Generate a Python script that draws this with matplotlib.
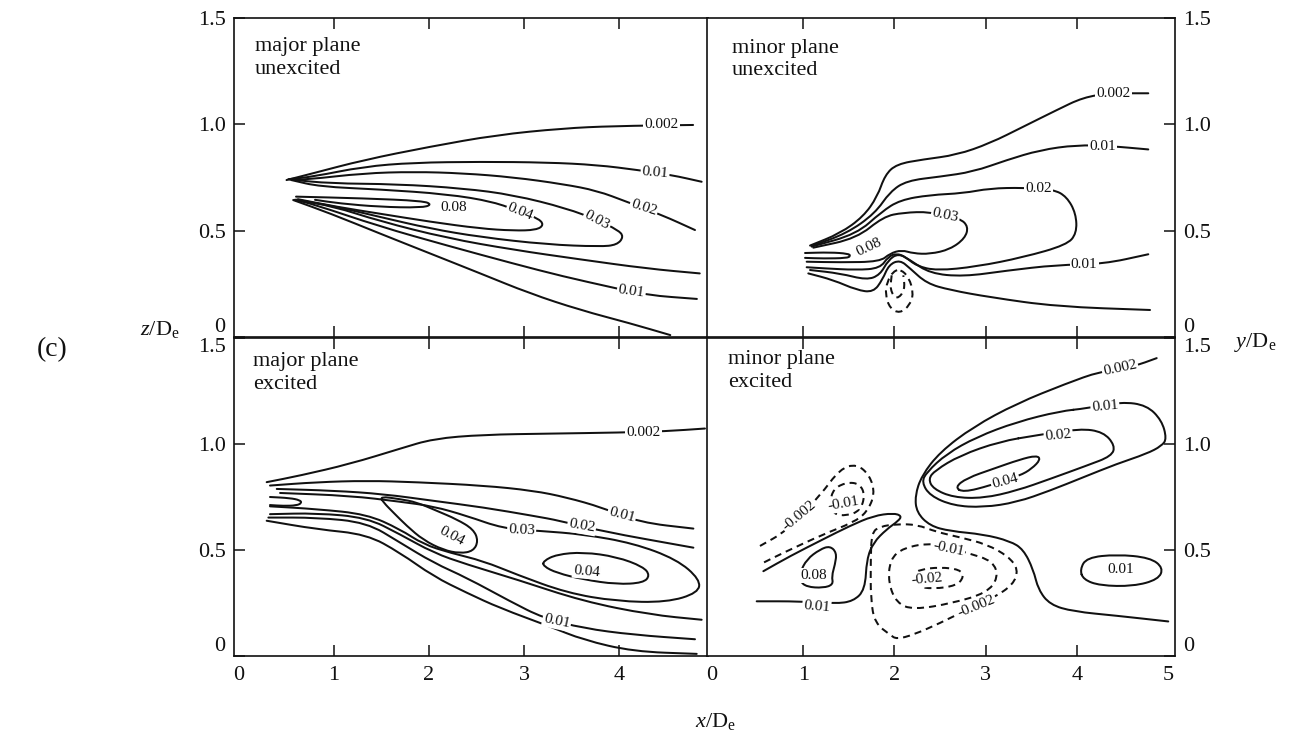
import matplotlib
matplotlib.use('Agg')
from matplotlib import pyplot as plt
from matplotlib.path import Path
from matplotlib.patches import PathPatch

plt.rcParams['font.family'] = ['Liberation Serif', 'DejaVu Serif']
plt.rcParams['mathtext.fontset'] = 'custom'
plt.rcParams['mathtext.rm'] = 'Liberation Serif'
plt.rcParams['mathtext.it'] = 'Liberation Serif:italic'

INK = '#111111'

# Contour traces, as (x/De, z/De) or (x/De, y/De) points.

# --- major plane, unexcited ---
tl_002_upper = [(0.50, 0.738), (0.78, 0.770), (1.31, 0.832), (2.01, 0.895), (2.71, 0.950),
                (3.41, 0.981), (3.94, 0.992), (4.78, 0.997)]
tl_002_lower = [(0.57, 0.644), (0.96, 0.581), (1.48, 0.487), (2.01, 0.393), (2.54, 0.299),
                (3.06, 0.205), (3.59, 0.127), (4.12, 0.064), (4.54, 0.009)]
tl_01_upper = [(0.52, 0.742), (0.78, 0.754), (1.31, 0.801), (1.84, 0.820), (2.54, 0.824),
               (3.24, 0.821), (3.77, 0.809), (4.20, 0.785), (4.55, 0.762), (4.87, 0.730)]
tl_01_lower = [(0.58, 0.645), (0.78, 0.625), (1.48, 0.520), (2.19, 0.430), (2.89, 0.345),
               (3.41, 0.285), (3.94, 0.232), (4.29, 0.197), (4.82, 0.179)]
tl_02_upper = [(0.53, 0.741), (0.71, 0.740), (1.31, 0.770), (1.84, 0.777), (2.36, 0.770),
               (2.89, 0.751), (3.41, 0.719), (3.77, 0.688), (4.08, 0.636), (4.45, 0.574),
               (4.80, 0.503)]
tl_02_lower = [(0.59, 0.645), (0.99, 0.615), (1.48, 0.545), (2.19, 0.465), (2.89, 0.410),
               (3.59, 0.365), (4.29, 0.322), (4.85, 0.299)]
tl_03 = [(0.55, 0.740), (0.96, 0.722), (1.66, 0.719), (2.36, 0.699), (2.89, 0.668),
         (3.45, 0.605), (3.77, 0.550), (3.99, 0.503), (4.05, 0.472), (3.98, 0.433),
         (3.80, 0.425), (3.24, 0.435), (2.54, 0.470), (2.01, 0.510), (1.48, 0.565),
         (1.03, 0.612), (0.60, 0.646)]
tl_04 = [(0.55, 0.738), (0.85, 0.707), (1.48, 0.694), (2.19, 0.672), (2.68, 0.636),
         (2.96, 0.588), (3.15, 0.558), (3.21, 0.527), (3.13, 0.503), (2.89, 0.500),
         (2.54, 0.510), (2.01, 0.542), (1.48, 0.580), (1.03, 0.612), (0.62, 0.648)]
tl_08 = [(0.60, 0.660), (1.31, 0.652), (1.94, 0.640), (2.03, 0.622), (1.92, 0.608),
         (1.48, 0.612), (1.06, 0.628), (0.80, 0.645)]
tl_labels = [('0.002', 4.45, 0.997, 0), ('0.01', 4.38, 0.774, -5), ('0.02', 4.26, 0.606, -18),
             ('0.03', 3.77, 0.550, -28), ('0.04', 2.96, 0.588, -22), ('0.08', 2.26, 0.610, 0),
             ('0.01', 4.13, 0.214, -8)]

# --- minor plane, unexcited ---
tr_002_upper = [(1.075, 0.430), (1.404, 0.487), (1.659, 0.566), (1.813, 0.660), (1.897, 0.762),
                (2.025, 0.813), (2.317, 0.835), (2.683, 0.856), (3.048, 0.911), (3.414, 0.989),
                (3.779, 1.067), (4.071, 1.127), (4.364, 1.146), (4.784, 1.146)]
tr_01_upper = [(1.093, 0.428), (1.477, 0.487), (1.787, 0.581), (1.952, 0.683), (2.135, 0.735),
               (2.500, 0.754), (2.865, 0.777), (3.231, 0.832), (3.596, 0.879), (3.999, 0.903),
               (4.364, 0.898), (4.784, 0.882)]
tr_02 = [(1.093, 0.425), (1.586, 0.484), (1.860, 0.589), (2.061, 0.644), (2.390, 0.668),
         (2.756, 0.676), (3.048, 0.699), (3.414, 0.702), (3.743, 0.694), (3.889, 0.660),
         (3.991, 0.581), (3.999, 0.487), (3.889, 0.433), (3.414, 0.375), (2.902, 0.331),
         (2.463, 0.312), (2.244, 0.334), (2.116, 0.378), (2.025, 0.393), (1.933, 0.378),
         (1.842, 0.323), (1.586, 0.315), (1.221, 0.323), (1.038, 0.328)]
tr_03 = [(1.111, 0.420), (1.586, 0.464), (1.879, 0.566), (2.098, 0.585), (2.390, 0.589),
         (2.719, 0.558), (2.811, 0.519), (2.774, 0.464), (2.610, 0.412), (2.390, 0.390),
         (2.208, 0.393), (2.080, 0.409), (1.952, 0.393), (1.842, 0.354), (1.404, 0.351),
         (1.038, 0.354)]
tr_08 = [(1.020, 0.395), (1.294, 0.398), (1.495, 0.392), (1.520, 0.381), (1.477, 0.371),
         (1.221, 0.369), (1.020, 0.372)]
tr_01_lower = [(1.075, 0.315), (1.404, 0.299), (1.696, 0.268), (1.842, 0.292), (1.933, 0.362),
               (2.043, 0.393), (2.171, 0.362), (2.390, 0.299), (2.756, 0.284), (3.231, 0.312),
               (3.779, 0.339), (4.291, 0.343), (4.784, 0.389)]
tr_002_lower = [(1.056, 0.299), (1.330, 0.268), (1.586, 0.221), (1.769, 0.210), (1.870, 0.270),
                (1.940, 0.340), (2.061, 0.362), (2.171, 0.323), (2.354, 0.252), (2.610, 0.221),
                (3.048, 0.187), (3.779, 0.143), (4.803, 0.127)]
tr_neg_outer = [(1.99, 0.310), (1.92, 0.260), (1.90, 0.200), (1.95, 0.135), (2.06, 0.111),
                (2.17, 0.150), (2.21, 0.205), (2.16, 0.280), (2.07, 0.318), (1.99, 0.310)]
tr_neg_inner = [(1.97, 0.290), (1.952, 0.221), (2.025, 0.174), (2.116, 0.221), (2.098, 0.290)]
tr_labels = [('0.002', 4.40, 1.146, 0), ('0.01', 4.28, 0.898, 0), ('0.02', 3.58, 0.699, 0),
             ('0.03', 2.56, 0.572, -12), ('0.08', 1.72, 0.420, 25), ('0.01', 4.08, 0.343, 0)]

# --- major plane, excited ---
bl_002_upper = [(0.291, 0.820), (0.642, 0.851), (1.168, 0.906), (1.695, 0.978), (2.046, 1.025),
                (2.572, 1.044), (3.274, 1.049), (4.011, 1.054), (4.484, 1.060), (4.905, 1.073)]
bl_01_upper = [(0.326, 0.804), (0.818, 0.820), (1.344, 0.827), (1.870, 0.820), (2.572, 0.804),
               (3.098, 0.780), (3.449, 0.748), (3.818, 0.701), (4.221, 0.630), (4.783, 0.601)]
bl_02_upper = [(0.397, 0.788), (0.993, 0.780), (1.519, 0.764), (2.046, 0.732), (2.572, 0.701),
               (3.098, 0.661), (3.379, 0.638), (3.800, 0.590), (4.783, 0.511)]
bl_03 = [(0.432, 0.769), (1.168, 0.756), (1.695, 0.728), (2.046, 0.706), (2.397, 0.661),
         (2.782, 0.601), (3.168, 0.590), (3.624, 0.574), (4.151, 0.532), (4.607, 0.456),
         (4.853, 0.361), (4.835, 0.298), (4.502, 0.253), (3.975, 0.258), (3.449, 0.298),
         (2.923, 0.384), (2.572, 0.448), (2.221, 0.487), (1.940, 0.527), (1.695, 0.598),
         (1.344, 0.669), (0.818, 0.693), (0.326, 0.706)]
bl_04_near = [(1.484, 0.753), (1.695, 0.740), (1.870, 0.725), (2.081, 0.685), (2.291, 0.645),
              (2.467, 0.598), (2.519, 0.543), (2.467, 0.495), (2.326, 0.484), (2.151, 0.500),
              (1.940, 0.547), (1.765, 0.614), (1.624, 0.677), (1.519, 0.725), (1.484, 0.753)]
bl_04_far = [(3.203, 0.448), (3.344, 0.479), (3.624, 0.490), (3.975, 0.468), (4.256, 0.421),
             (4.326, 0.380), (4.256, 0.345), (3.975, 0.338), (3.624, 0.361), (3.344, 0.392),
             (3.203, 0.424), (3.203, 0.448)]
bl_08 = [(0.326, 0.750), (0.537, 0.745), (0.642, 0.735), (0.660, 0.722), (0.607, 0.710),
         (0.467, 0.708), (0.326, 0.712)]
bl_02_lower = [(0.326, 0.669), (0.818, 0.674), (1.344, 0.653), (1.695, 0.574), (2.046, 0.487),
               (2.397, 0.432), (2.923, 0.361), (3.624, 0.258), (4.326, 0.195), (4.870, 0.171)]
bl_01_lower = [(0.309, 0.653), (0.818, 0.653), (1.344, 0.630), (1.695, 0.535), (2.046, 0.440),
               (2.397, 0.369), (2.853, 0.258), (3.203, 0.179), (3.624, 0.131), (4.151, 0.100),
               (4.800, 0.079)]
bl_002_lower = [(0.291, 0.638), (0.818, 0.598), (1.344, 0.574), (1.695, 0.487), (2.046, 0.376),
                (2.397, 0.298), (2.747, 0.226), (3.274, 0.139), (3.624, 0.076), (4.151, 0.021),
                (4.818, 0.010)]
bl_labels = [('0.002', 4.256, 1.054, 0), ('0.01', 4.028, 0.664, -15), ('0.02', 3.607, 0.612, -10),
             ('0.03', 2.975, 0.593, -3), ('0.04', 2.239, 0.563, -28), ('0.04', 3.660, 0.400, -5),
             ('0.01', 3.344, 0.163, -12)]

# --- minor plane, excited ---
br_002 = [(4.876, 1.405), (4.620, 1.365), (4.254, 1.342), (3.889, 1.286), (3.341, 1.191),
          (2.865, 1.081), (2.500, 0.962), (2.299, 0.851), (2.226, 0.756), (2.244, 0.677),
          (2.390, 0.614), (2.610, 0.589), (2.975, 0.574), (3.268, 0.542), (3.414, 0.503),
          (3.523, 0.408), (3.578, 0.313), (3.706, 0.242), (3.962, 0.210), (4.437, 0.190),
          (5.003, 0.163)]
br_01 = [(4.108, 1.168), (4.492, 1.199), (4.766, 1.183), (4.931, 1.112), (4.986, 1.025),
         (4.931, 0.991), (4.766, 0.954), (4.437, 0.906), (4.071, 0.843), (3.706, 0.780),
         (3.341, 0.725), (2.975, 0.701), (2.646, 0.709), (2.390, 0.756), (2.299, 0.820),
         (2.354, 0.867), (2.573, 0.954), (2.902, 1.033), (3.341, 1.104), (3.816, 1.155),
         (4.108, 1.168)]
br_02 = [(3.560, 1.041), (4.035, 1.073), (4.291, 1.057), (4.419, 0.993), (4.383, 0.943),
         (4.108, 0.898), (3.706, 0.835), (3.341, 0.780), (2.975, 0.744), (2.646, 0.748),
         (2.427, 0.788), (2.372, 0.835), (2.445, 0.875), (2.719, 0.946), (3.158, 1.012),
         (3.560, 1.041)]
br_04 = [(2.664, 0.796), (2.793, 0.839), (3.084, 0.883), (3.377, 0.927), (3.560, 0.946),
         (3.604, 0.927), (3.505, 0.883), (3.377, 0.851), (3.048, 0.804), (2.756, 0.772),
         (2.664, 0.796)]
br_01_right = [(4.035, 0.408), (4.108, 0.464), (4.437, 0.479), (4.803, 0.464), (4.949, 0.416),
               (4.894, 0.361), (4.620, 0.329), (4.254, 0.332), (4.071, 0.361), (4.035, 0.408)]
br_01_left = [(0.490, 0.258), (0.965, 0.258), (1.349, 0.247), (1.549, 0.258), (1.678, 0.313),
              (1.696, 0.456), (1.769, 0.535), (1.915, 0.598), (2.043, 0.637), (2.080, 0.661),
              (1.988, 0.674), (1.769, 0.661), (1.513, 0.614), (1.220, 0.551), (0.855, 0.471),
              (0.563, 0.400)]
br_08 = [(0.965, 0.393), (1.038, 0.456), (1.184, 0.503), (1.294, 0.519), (1.367, 0.487),
         (1.349, 0.432), (1.312, 0.376), (1.330, 0.337), (1.220, 0.321), (1.038, 0.326),
         (0.965, 0.353), (0.965, 0.393)]
br_neg_002_left = [(0.526, 0.519), (0.819, 0.590), (1.184, 0.756), (1.404, 0.883), (1.587, 0.906),
                   (1.732, 0.851), (1.787, 0.764), (1.696, 0.677), (1.549, 0.630), (1.220, 0.574),
                   (0.782, 0.487), (0.563, 0.440)]
br_neg_01_left = [(1.294, 0.725), (1.330, 0.788), (1.477, 0.820), (1.623, 0.812), (1.678, 0.756),
                  (1.623, 0.685), (1.477, 0.661), (1.330, 0.669), (1.294, 0.725)]
br_neg_002_mid = [(1.751, 0.582), (1.842, 0.611), (2.025, 0.622), (2.245, 0.620), (2.464, 0.585),
                  (2.719, 0.560), (3.012, 0.527), (3.250, 0.470), (3.359, 0.408), (3.304, 0.337),
                  (3.084, 0.274), (2.793, 0.218), (2.500, 0.155), (2.207, 0.100), (2.025, 0.079),
                  (1.952, 0.100), (1.787, 0.155), (1.740, 0.266), (1.740, 0.456), (1.751, 0.582)]
br_neg_01_mid = [(1.952, 0.456), (2.098, 0.511), (2.427, 0.535), (2.793, 0.487), (3.084, 0.448),
                 (3.139, 0.369), (3.012, 0.298), (2.646, 0.250), (2.207, 0.218), (2.025, 0.250),
                 (1.933, 0.345), (1.952, 0.456)]
br_neg_02_mid = [(2.190, 0.384), (2.281, 0.408), (2.500, 0.419), (2.719, 0.408), (2.763, 0.374),
                 (2.683, 0.332), (2.427, 0.316), (2.226, 0.329), (2.190, 0.384)]
br_labels = [('0.002', 4.474, 1.357, 12), ('0.01', 4.309, 1.176, 5), ('0.02', 3.797, 1.041, 5),
             ('0.04', 3.213, 0.827, 15), ('0.01', 4.481, 0.408, 0), ('0.01', 1.148, 0.234, -5),
             ('0.08', 1.118, 0.380, 0), ('-0.002', 0.957, 0.661, 40), ('-0.01', 1.440, 0.717, 10),
             ('-0.01', 2.591, 0.505, -12), ('-0.02', 2.354, 0.361, 5), ('-0.002', 2.902, 0.232, 22)]


fig = plt.figure(figsize=(12.99, 7.41), dpi=100)
fig.patch.set_facecolor('white')


def smooth_path(pts):
    '''Quadratic Bezier path through the midpoints of the traced polyline.'''
    closed = pts[0] == pts[-1]
    if closed:
        pts = pts[:-1]
        n = len(pts)
        mids = [((pts[i][0] + pts[(i + 1) % n][0]) / 2, (pts[i][1] + pts[(i + 1) % n][1]) / 2)
                for i in range(n)]
        verts = [mids[-1]]
        codes = [Path.MOVETO]
        for i in range(n):
            verts += [pts[i], mids[i]]
            codes += [Path.CURVE3, Path.CURVE3]
        return Path(verts, codes)
    verts = [pts[0]]
    codes = [Path.MOVETO]
    if len(pts) > 2:
        verts.append(((pts[0][0] + pts[1][0]) / 2, (pts[0][1] + pts[1][1]) / 2))
        codes.append(Path.LINETO)
        for i in range(1, len(pts) - 1):
            mid = ((pts[i][0] + pts[i + 1][0]) / 2, (pts[i][1] + pts[i + 1][1]) / 2)
            verts += [pts[i], mid]
            codes += [Path.CURVE3, Path.CURVE3]
    verts.append(pts[-1])
    codes.append(Path.LINETO)
    return Path(verts, codes)


def draw_panel(rect, xlim, solid, dashed, labels, title, title_pos, side, bottom_row):
    '''One contour panel: traced lines, in-line labels and the box ticks.'''
    ax = fig.add_axes(rect)
    for pts in solid:
        ax.add_patch(PathPatch(smooth_path(pts), fill=False, ec=INK, lw=1.45,
                               joinstyle='round', capstyle='round'))
    for pts in dashed:
        ax.add_patch(PathPatch(smooth_path(pts), fill=False, ec=INK, lw=1.45,
                               linestyle=(0, (3.5, 2.5))))
    for text, x, y, rot in labels:
        ax.text(x, y, text, fontsize=11, rotation=rot, ha='center', va='center', color=INK,
                rotation_mode='anchor', zorder=5,
                bbox=dict(boxstyle='square,pad=0.08', fc='white', ec='none'))
    ax.text(title_pos[0], title_pos[1], title, transform=ax.transAxes, ha='left', va='top',
            fontsize=16, linespacing=1.25, color=INK)

    ax.set_xlim(*xlim)
    ax.set_ylim(0, 1.5)
    xt = [0, 1, 2, 3, 4] if side == 'left' else [0, 1, 2, 3, 4, 5]
    ax.set_xticks(xt)
    ax.set_yticks([0, 0.5, 1.0, 1.5])
    ax.set_yticklabels(['0', '0.5', '1.0', '1.5'])
    ax.tick_params(direction='in', length=8, width=1.1, labelsize=16, colors=INK,
                   top=True, bottom=True)
    ax.tick_params(axis='x', labelbottom=bottom_row, pad=7)
    if side == 'left':
        ax.tick_params(axis='y', left=True, right=False, labelleft=True, pad=6)
    else:
        ax.tick_params(axis='y', left=False, right=True, labelleft=False, labelright=True, pad=6)
    for t, v in zip(ax.xaxis.get_major_ticks(), xt):
        if v in (0, 5):
            t.tick1line.set_visible(False)
            t.tick2line.set_visible(False)
    yt = ax.yaxis.get_major_ticks()
    for lab in (yt[0].label1, yt[0].label2):
        lab.set_verticalalignment('bottom')
    if bottom_row:
        for lab in (yt[-1].label1, yt[-1].label2):
            lab.set_verticalalignment('top')
    for sp in ax.spines.values():
        sp.set_linewidth(1.2)
        sp.set_color(INK)
    return ax


left_x = 234 / 1299
right_x = 707 / 1299
left_w = 474 / 1299
right_w = 468 / 1299
top_y = 1 - 337 / 741
bot_y = 1 - 656 / 741
top_h = 319 / 741
bot_h = 318 / 741
left_xlim = (-0.053, 4.937)
right_xlim = (-0.055, 5.077)

draw_panel([left_x, top_y, left_w, top_h], left_xlim,
           [tl_002_upper, tl_002_lower, tl_01_upper, tl_01_lower, tl_02_upper, tl_02_lower,
            tl_03, tl_04, tl_08], [], tl_labels,
           'major plane\nunexcited', (0.044, 0.94), 'left', False)
draw_panel([right_x, top_y, right_w, top_h], right_xlim,
           [tr_002_upper, tr_01_upper, tr_02, tr_03, tr_08, tr_01_lower, tr_002_lower],
           [tr_neg_outer, tr_neg_inner], tr_labels,
           'minor plane\nunexcited', (0.053, 0.935), 'right', False)
draw_panel([left_x, bot_y, left_w, bot_h], left_xlim,
           [bl_002_upper, bl_01_upper, bl_02_upper, bl_03, bl_04_near, bl_04_far, bl_08,
            bl_02_lower, bl_01_lower, bl_002_lower], [], bl_labels,
           'major plane\nexcited', (0.040, 0.955), 'left', True)
draw_panel([right_x, bot_y, right_w, bot_h], right_xlim,
           [br_002, br_01, br_02, br_04, br_01_right, br_01_left, br_08],
           [br_neg_002_left, br_neg_01_left, br_neg_002_mid, br_neg_01_mid, br_neg_02_mid],
           br_labels, 'minor plane\nexcited', (0.045, 0.962), 'right', True)

fig.text(52 / 1299, 1 - 350 / 741, '(c)', fontsize=20, ha='center', va='center', color=INK)
fig.text(160 / 1299, 1 - 330 / 741, r'$z/\mathrm{D}_\mathrm{e}$', fontsize=16,
         ha='center', va='center', color=INK)
fig.text(1255 / 1299, 1 - 342 / 741, r'$y/\mathrm{D}_\mathrm{e}$', fontsize=16,
         ha='center', va='center', color=INK)
fig.text(715 / 1299, 1 - 722 / 741, r'$x/\mathrm{D}_\mathrm{e}$', fontsize=16,
         ha='center', va='center', color=INK)

fig.savefig('out.png', dpi=100, facecolor='white')
